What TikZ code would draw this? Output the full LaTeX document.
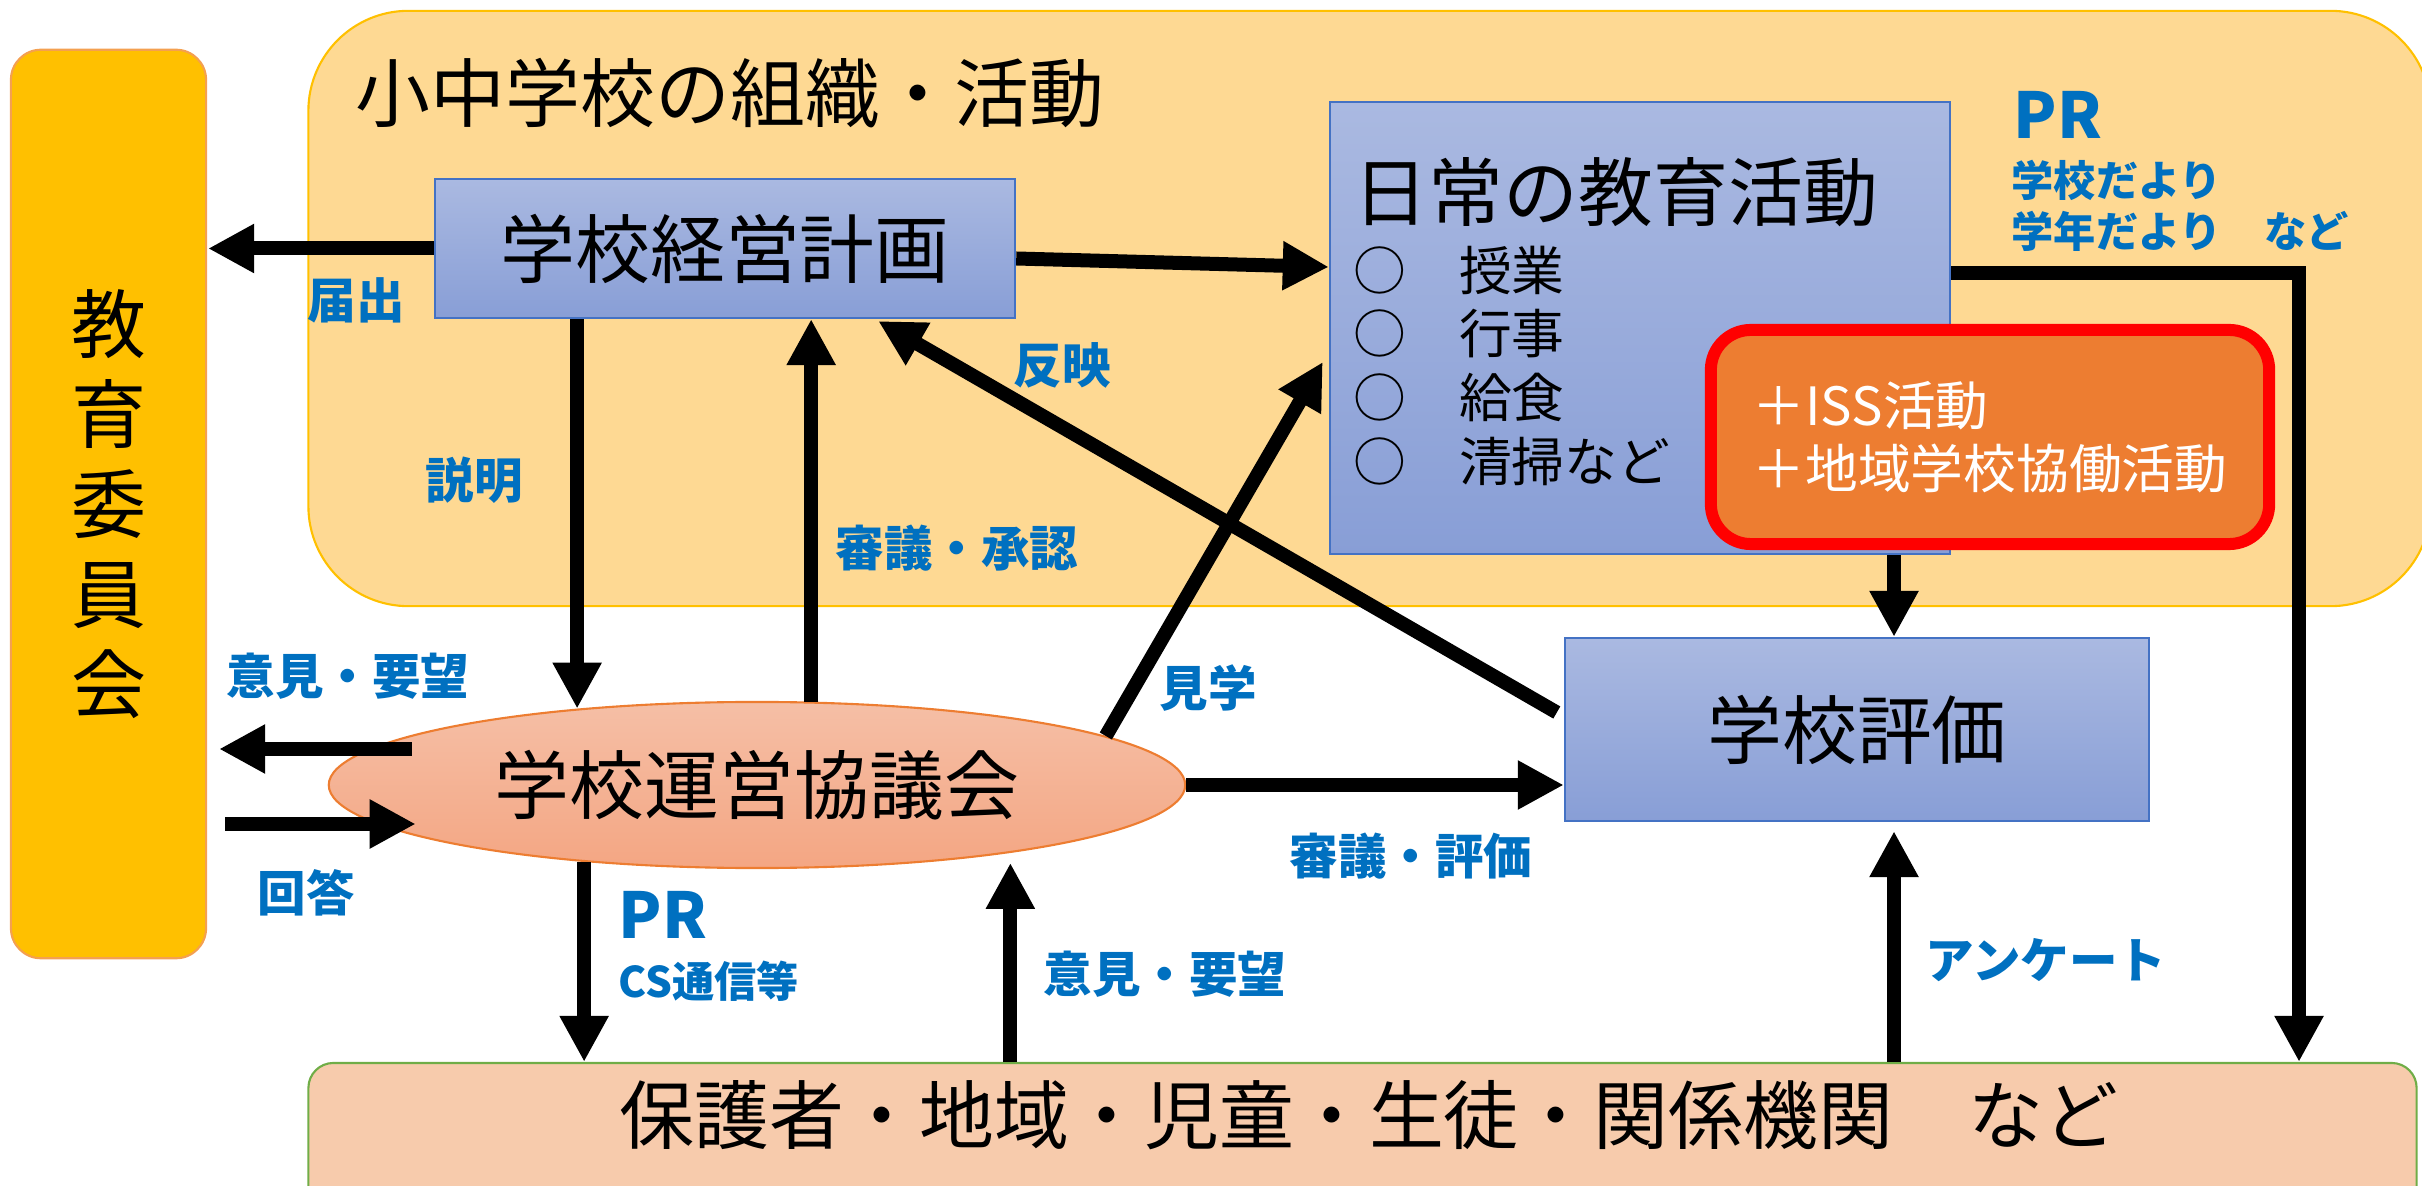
\documentclass[tikz,border=0pt]{standalone}
\usepackage{fontspec}
\setmainfont{Noto Sans CJK JP}
\usetikzlibrary{arrows.meta, calc, positioning, shapes.geometric}
\definecolor{org_fill}{RGB}{254,217,147}
\definecolor{org_line}{RGB}{255,192,0}
\definecolor{board_fill}{RGB}{255,192,0}
\definecolor{board_line}{RGB}{244,160,80}
\definecolor{blue_top}{RGB}{170,185,225}
\definecolor{blue_bot}{RGB}{136,158,214}
\definecolor{blue_line}{RGB}{68,114,196}
\definecolor{coun_top}{RGB}{245,191,166}
\definecolor{coun_bot}{RGB}{244,166,131}
\definecolor{iss_fill}{RGB}{237,125,49}
\definecolor{people_fill}{RGB}{247,203,172}
\definecolor{people_line}{RGB}{112,173,71}
\definecolor{label_blue}{RGB}{0,112,192}
\newcommand{\bigjp}{\fontsize{21.3pt}{25.6pt}\selectfont}
\newcommand{\midjp}{\fontsize{15pt}{17.9pt}\selectfont}
\newcommand{\lbljp}{\fontsize{13.8pt}{16pt}\selectfont\bfseries}
\newcommand{\smljp}{\fontsize{12pt}{14.5pt}\selectfont\bfseries}
\newcommand{\prjp}{\fontsize{18pt}{20pt}\selectfont\bfseries}

\begin{document}
\begin{tikzpicture}[x=0.01cm, y=-0.01cm, >={Triangle[length=4.6mm, width=4.6mm]},
    bluebox/.style={rectangle, draw=blue_line, line width=0.6pt, top color=blue_top, bottom color=blue_bot, font=\bigjp, inner sep=0pt},
    lbl/.style={text=label_blue, font=\lbljp, inner sep=0pt},
    arr/.style={->, line width=1.4mm}]
      \useasboundingbox (0,0) rectangle (2422,1186);
      \clip (0,0) rectangle (2422,1186);
      \node[rectangle, rounded corners=1cm, draw=org_line, line width=0.6pt, fill=org_fill, minimum width=21.21cm, minimum height=5.95cm, inner sep=0pt] (org) at (1369.5,308.5) {};
      \node[font=\bigjp, anchor=west, inner sep=0pt] (orgT) at (355,93) {小中学校の組織・活動};
      \node[rectangle, rounded corners=0.3cm, draw=board_line, line width=0.6pt, fill=board_fill, minimum width=1.95cm, minimum height=9.08cm, align=center, font=\bigjp, inner sep=0pt] (board) at (108.5,504) {教\\育\\委\\員\\会};
      \node[bluebox, minimum width=5.8cm, minimum height=1.39cm] (plan) at (725,248.5) {学校経営計画};
      \node[bluebox, minimum width=6.2cm, minimum height=4.52cm] (daily) at (1640,328) {};
      \node[font=\bigjp, anchor=west, inner sep=0pt] (dailyT) at (1353,192) {日常の教育活動};
      \node[font=\midjp, anchor=west, inner sep=0pt] (itemA) at (1353,270) {○　授業};
      \node[font=\midjp, anchor=west, inner sep=0pt] (itemB) at (1353,334) {○　行事};
      \node[font=\midjp, anchor=west, inner sep=0pt] (itemC) at (1353,397) {○　給食};
      \node[font=\midjp, anchor=west, inner sep=0pt] (itemD) at (1353,461) {○　清掃など};
      \node[rectangle, rounded corners=0.4cm, draw=red, line width=0.12cm, fill=iss_fill, text=white, font=\midjp, align=left, minimum width=5.58cm, minimum height=2.14cm, inner sep=0pt] (iss) at (1990,437) {＋ISS活動\\＋地域学校協働活動};
      \node[bluebox, minimum width=5.84cm, minimum height=1.83cm] (eval) at (1857,729.5) {学校評価};
      \node[ellipse, draw=iss_fill, line width=0.6pt, top color=coun_top, bottom color=coun_bot, minimum width=8.56cm, minimum height=1.66cm, inner sep=0pt, font=\bigjp] (coun) at (757,785) {学校運営協議会};
      \node[rectangle, rounded corners=0.25cm, draw=people_line, line width=0.6pt, fill=people_fill, minimum width=21.07cm, minimum height=1.6cm, inner sep=0pt] (people) at (1362.5,1143) {};
      \node[font=\bigjp, inner sep=0pt] (peopleT) at (1369,1115) {保護者・地域・児童・生徒・関係機関　など};

      \draw[arr] (plan.west) -- ($(plan.west -| board.east)+(1,0)$);
      \draw[arr] (plan.south -| coun.157) -- (coun.157);
      \draw[arr] (coun.57) -- (coun.57 |- plan.south);
      \draw[arr] ($(plan.east)+(0,10)$) -- ($(daily.west)+(0,-61)$);
      \draw[arr] ($(eval.west)+(-7,-17)$) -- ($(plan.south east)+(-138,2)$);
      \draw[arr] (coun.8) -- ($(daily.west)+(-6,34)$);
      \coordinate (evalx) at ($(eval.north)+(37,0)$);
      \draw[arr] (evalx |- daily.south) -- (evalx);
      \coordinate (prturn) at (2299,273);
      \draw[arr] (prturn -| daily.east) -- (prturn) -- (prturn |- people.north);
      \coordinate (askL) at ($(coun.west)+(84,-36)$);
      \draw[arr] (askL) -- ($(askL -| board.east)+(12,0)$);
      \coordinate (ansR) at ($(coun.west)+(88,39)$);
      \draw[arr] ($(ansR -| board.east)+(18,0)$) -- (ansR);
      \draw[arr] (coun.east) -- (coun.east -| eval.west);
      \draw[arr] (coun.204) -- (coun.204 |- people.north);
      \draw[arr] (coun.345 |- people.north) -- ($(coun.345)+(0,10)$);
      \draw[arr] (evalx |- people.north) -- ($(evalx |- eval.south)+(0,9)$);

      \node[lbl] (lblA) at (356,300) {届出};
      \node[lbl] (lblB) at (474,480) {説明};
      \node[lbl] (lblC) at (957,548) {審議・承認};
      \node[lbl] (lblD) at (1062,365) {反映};
      \node[lbl] (lblE) at (1208,688) {見学};
      \node[lbl] (lblF) at (348,676) {意見・要望};
      \node[lbl] (lblG) at (306,893) {回答};
      \node[lbl] (lblH) at (1411,856) {審議・評価};
      \node[lbl] (lblI) at (1165,974) {意見・要望};
      \node[lbl] (lblJ) at (2046,960) {アンケート};
      \node[lbl, font=\prjp, anchor=west] (prLow) at (618,915) {PR};
      \node[lbl, font=\smljp, anchor=west] (csNews) at (618,981) {CS通信等};
      \node[lbl, font=\prjp, anchor=west] (prTop) at (2013,115) {PR};
      \node[lbl, font=\smljp, anchor=west, align=left] (schoolNews) at (2011,206) {学校だより\\学年だより　など};
    \end{tikzpicture}
\end{document}
